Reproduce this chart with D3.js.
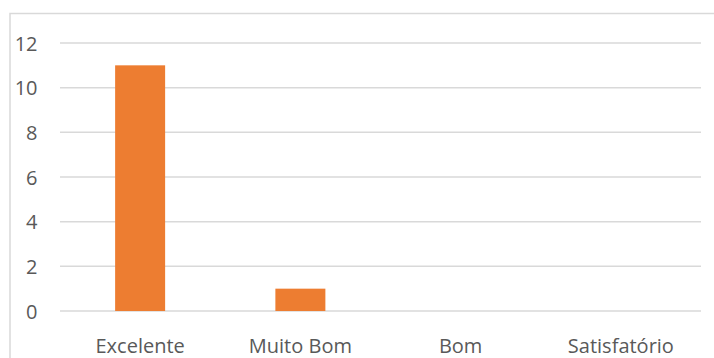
<!DOCTYPE html>
<html>
<head>
<meta charset="utf-8">
<script src="https://cdn.jsdelivr.net/npm/d3@7"></script>
<style>
  html, body { margin: 0; padding: 0; background: #fff; }
  svg { display: block; }
  text { font-family: "Open Sans", sans-serif; fill: #595959; }
</style>
</head>
<body>
<svg id="chart" width="714" height="358"></svg>
<script>
const categories = ["Excelente", "Muito Bom", "Bom", "Satisfatório"];
const values = [11, 1, 0, 0];
const yTicks = [0, 2, 4, 6, 8, 10, 12];

const svg = d3.select("#chart");
const W = 714, H = 358;
const margin = { left: 60, right: 13, top: 43, bottom: 47 };

// outer frame (cropped at right/bottom in the reference)
svg.append("rect")
  .attr("x", 10).attr("y", 13.5)
  .attr("width", 720).attr("height", 360)
  .attr("fill", "none").attr("stroke", "#d9d9d9").attr("stroke-width", 1.5);

const x = d3.scaleBand()
  .domain(categories)
  .range([margin.left, W - margin.right])
  .paddingInner(0.688)
  .paddingOuter(0.344);

const y = d3.scaleLinear()
  .domain([0, 12])
  .range([H - margin.bottom, margin.top]);

// gridlines
svg.append("g")
  .selectAll("line")
  .data(yTicks)
  .join("line")
  .attr("x1", margin.left).attr("x2", W - margin.right)
  .attr("y1", d => y(d)).attr("y2", d => y(d))
  .attr("stroke", "#d9d9d9").attr("stroke-width", 1.5);

// y axis labels
const yAxis = d3.axisLeft(y).tickValues(yTicks).tickSize(0).tickPadding(0);
const gy = svg.append("g")
  .attr("transform", `translate(${37.5},0)`)
  .call(yAxis);
gy.select(".domain").remove();
gy.selectAll("text")
  .attr("font-size", 20)
  .attr("font-family", "Open Sans, sans-serif")
  .attr("fill", "#595959")
  .attr("dy", "0.36em");

// bars
svg.append("g")
  .selectAll("rect")
  .data(categories.map((c, i) => ({ c, v: values[i] })))
  .join("rect")
  .attr("x", d => x(d.c))
  .attr("width", x.bandwidth())
  .attr("y", d => y(d.v))
  .attr("height", d => y(0) - y(d.v))
  .attr("fill", "#ed7d31");

// x axis labels
const xAxis = d3.axisBottom(x).tickSize(0).tickPadding(0);
const gx = svg.append("g")
  .attr("transform", `translate(0,${y(0)})`)
  .call(xAxis);
gx.select(".domain").remove();
gx.selectAll("text")
  .attr("font-size", 20)
  .attr("font-family", "Open Sans, sans-serif")
  .attr("fill", "#595959")
  .attr("y", 0)
  .attr("dy", 42);
</script>
</body>
</html>
